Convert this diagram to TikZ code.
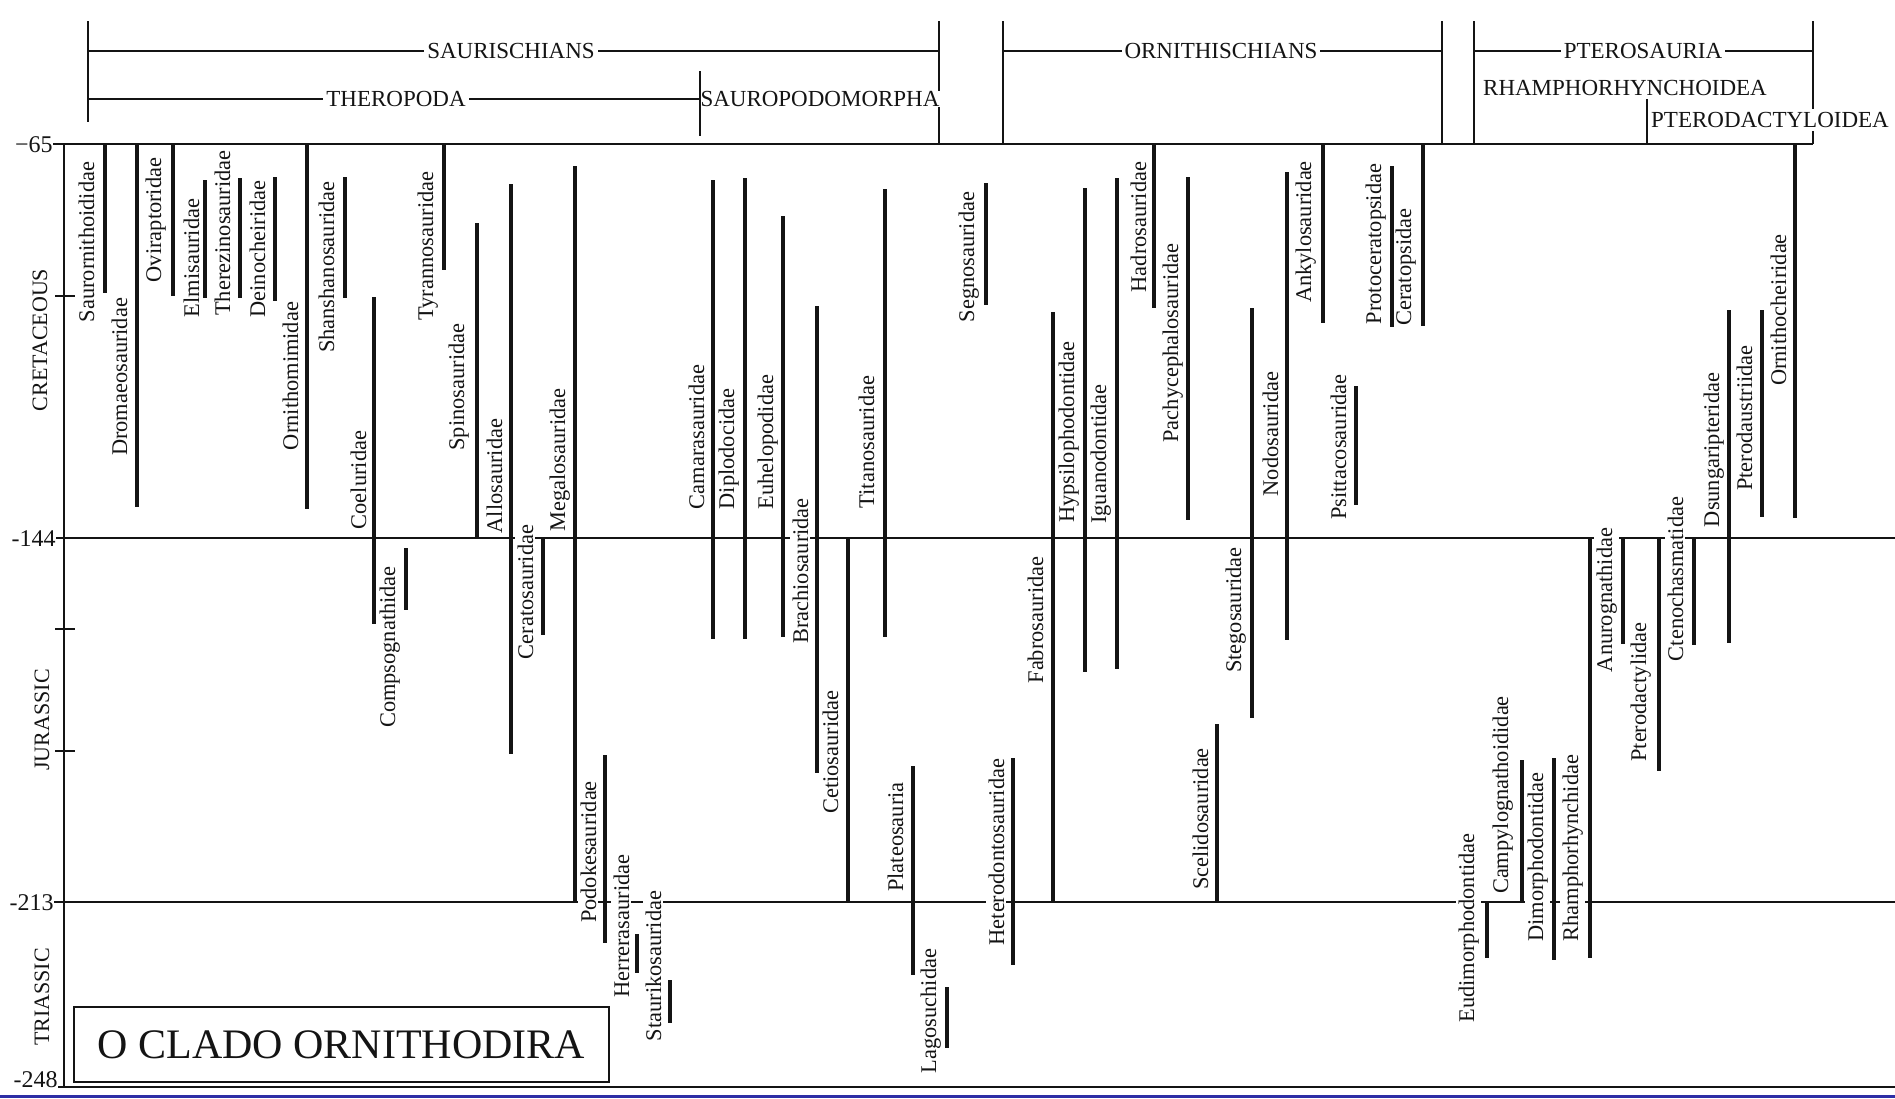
\documentclass[tikz,border=0pt]{standalone}
\usepackage{fontspec}
\setmainfont{Liberation Serif}
\usepackage{xcolor}
\definecolor{ink}{RGB}{20,20,20}
\definecolor{slideblue}{RGB}{45,45,165}
\usepackage{tikz}

\begin{document}
\begin{tikzpicture}[
        x=0.5pt, y=-0.5pt,
        rule/.style={line width=0.7pt, ink},
        bar/.style={line width=1.8pt, ink},
        fam/.style={rotate=90, anchor=base, fill=white, inner sep=1pt, text=ink, font=\fontsize{11.2}{13}\selectfont},
        clade/.style={fill=white, inner sep=1.5pt, text=ink, font=\fontsize{11.5}{13}\selectfont},
        period/.style={rotate=90, text=ink, font=\fontsize{11}{13}\selectfont},
        age/.style={anchor=east, inner sep=0pt, text=ink, font=\fontsize{12}{14}\selectfont},
        titlebox/.style={draw=ink, line width=1.3pt, minimum width=267.5pt, minimum height=37.5pt, inner sep=0pt, text=ink, font=\fontsize{21}{24}\selectfont}
    ]
        \useasboundingbox (0,0) rectangle (1895,1098);

        \draw[rule] (53,144) -- (1813,144);
        \draw[rule] (56,538) -- (1895,538);
        \draw[rule] (54,902) -- (1895,902);
        \draw[rule] (58,1087) -- (1895,1087);
        \draw[rule] (64,144) -- (64,1087);
        \draw[rule] (55,296) -- (75,296);
        \draw[rule] (55,629) -- (75,629);
        \draw[rule] (55,751) -- (75,751);
        \draw[slideblue, line width=1.5pt] (0,1096.5) -- (1895,1096.5);

        \node[age] (a65) at (53,145) {−65};
        \node[age] (a144) at (56,539) {-144};
        \node[age] (a213) at (54,903) {-213};
        \node[age] (a248) at (58,1080) {-248};

        \node[period] (cretaceous) at (40,340) {CRETACEOUS};
        \node[period] (jurassic) at (42,720) {JURASSIC};
        \node[period] (triassic) at (42,997) {TRIASSIC};

        \draw[rule] (88,21) -- (88,122);
        \draw[rule] (939,21) -- (939,144);
        \draw[rule] (88,51) -- (939,51);
        \draw[rule] (88,99) -- (700,99);
        \draw[rule] (700,71) -- (700,136);
        \draw[rule] (1003,21) -- (1003,144);
        \draw[rule] (1442,21) -- (1442,144);
        \draw[rule] (1003,51) -- (1442,51);
        \draw[rule] (1474,21) -- (1474,144);
        \draw[rule] (1813,21) -- (1813,144);
        \draw[rule] (1474,51) -- (1813,51);
        \draw[rule] (1647,97) -- (1647,144);

        \node[clade] (saurischians) at (511,51) {SAURISCHIANS};
        \node[clade] (theropoda) at (396,99) {THEROPODA};
        \node[clade, inner sep=0pt] (sauropodomorpha) at (820,99) {SAUROPODOMORPHA};
        \node[clade] (ornithischians) at (1221,51) {ORNITHISCHIANS};
        \node[clade] (pterosauria) at (1643,51) {PTEROSAURIA};
        \node[clade] (rhamphorhynchoidea) at (1625,88) {RHAMPHORHYNCHOIDEA};
        \node[clade] (pterodactyloidea) at (1770,120) {PTERODACTYLOIDEA};

        \node[titlebox] (title) at (341.5,1044.5) {O CLADO ORNITHODIRA};

        \node[fam] (saurornithoididae) at (94,242) {Saurornithoididae};
        \node[fam] (dromaeosauridae) at (127,377) {Dromaeosauridae};
        \node[fam] (oviraptoridae) at (161,220) {Oviraptoridae};
        \node[fam] (elmisauridae) at (199,258) {Elmisauridae};
        \node[fam] (therezinosauridae) at (230,233) {Therezinosauridae};
        \node[fam] (deinocheiridae) at (265,249) {Deinocheiridae};
        \node[fam] (ornithomimidae) at (298,376) {Ornithomimidae};
        \node[fam] (shanshanosauridae) at (334,267) {Shanshanosauridae};
        \node[fam] (coeluridae) at (366,480) {Coeluridae};
        \node[fam] (compsognathidae) at (395,647) {Compsognathidae};
        \node[fam] (tyrannosauridae) at (433,246) {Tyrannosauridae};
        \node[fam] (spinosauridae) at (464,387) {Spinosauridae};
        \node[fam] (allosauridae) at (502,476) {Allosauridae};
        \node[fam] (ceratosauridae) at (533,592) {Ceratosauridae};
        \node[fam] (megalosauridae) at (565,460) {Megalosauridae};
        \node[fam] (podokesauridae) at (596,852) {Podokesauridae};
        \node[fam] (herrerasauridae) at (629,926) {Herrerasauridae};
        \node[fam] (staurikosauridae) at (661,966) {Staurikosauridae};
        \node[fam] (camarasauridae) at (704,437) {Camarasauridae};
        \node[fam] (diplodocidae) at (734,449) {Diplodocidae};
        \node[fam] (euhelopodidae) at (773,442) {Euhelopodidae};
        \node[fam] (brachiosauridae) at (808,571) {Brachiosauridae};
        \node[fam] (cetiosauridae) at (838,752) {Cetiosauridae};
        \node[fam] (titanosauridae) at (874,442) {Titanosauridae};
        \node[fam] (plateosauria) at (903,837) {Plateosauria};
        \node[fam] (lagosuchidae) at (936,1011) {Lagosuchidae};
        \node[fam] (segnosauridae) at (974,257) {Segnosauridae};
        \node[fam] (heterodontosauridae) at (1004,852) {Heterodontosauridae};
        \node[fam] (fabrosauridae) at (1043,620) {Fabrosauridae};
        \node[fam] (hypsilophodontidae) at (1074,432) {Hypsilophodontidae};
        \node[fam] (iguanodontidae) at (1106,454) {Iguanodontidae};
        \node[fam] (hadrosauridae) at (1146,227) {Hadrosauridae};
        \node[fam] (pachycephalosauridae) at (1178,343) {Pachycephalosauridae};
        \node[fam] (scelidosauridae) at (1208,819) {Scelidosauridae};
        \node[fam] (stegosauridae) at (1241,610) {Stegosauridae};
        \node[fam] (nodosauridae) at (1278,434) {Nodosauridae};
        \node[fam] (ankylosauridae) at (1311,232) {Ankylosauridae};
        \node[fam] (psittacosauridae) at (1346,447) {Psittacosauridae};
        \node[fam] (protoceratopsidae) at (1381,244) {Protoceratopsidae};
        \node[fam] (ceratopsidae) at (1411,267) {Ceratopsidae};
        \node[fam] (eudimorphodontidae) at (1474,928) {Eudimorphodontidae};
        \node[fam] (campylognathoididae) at (1508,795) {Campylognathoididae};
        \node[fam] (dimorphodontidae) at (1543,857) {Dimorphodontidae};
        \node[fam] (rhamphorhynchidae) at (1578,848) {Rhamphorhynchidae};
        \node[fam] (anurognathidae) at (1612,600) {Anurognathidae};
        \node[fam] (pterodactylidae) at (1646,692) {Pterodactylidae};
        \node[fam] (ctenochasmatidae) at (1683,579) {Ctenochasmatidae};
        \node[fam] (dsungaripteridae) at (1719,450) {Dsungaripteridae};
        \node[fam] (pterodaustriidae) at (1752,418) {Pterodaustriidae};
        \node[fam] (ornithocheiridae) at (1786,310) {Ornithocheiridae};

        \draw[bar] (105,144) -- (105,293);
        \draw[bar] (137,144) -- (137,507);
        \draw[bar] (173,144) -- (173,296);
        \draw[bar] (205,180) -- (205,298);
        \draw[bar] (240,178) -- (240,298);
        \draw[bar] (275,177) -- (275,301);
        \draw[bar] (307,144) -- (307,509);
        \draw[bar] (345,177) -- (345,298);
        \draw[bar] (374,297) -- (374,624);
        \draw[bar] (406,548) -- (406,610);
        \draw[bar] (444,144) -- (444,270);
        \draw[bar] (477,223) -- (477,538);
        \draw[bar] (511,184) -- (511,754);
        \draw[bar] (543,538) -- (543,635);
        \draw[bar] (575,166) -- (575,902);
        \draw[bar] (605,755) -- (605,943);
        \draw[bar] (637,934) -- (637,973);
        \draw[bar] (670,980) -- (670,1023);
        \draw[bar] (713,180) -- (713,639);
        \draw[bar] (745,178) -- (745,639);
        \draw[bar] (783,216) -- (783,637);
        \draw[bar] (817,306) -- (817,773);
        \draw[bar] (848,538) -- (848,902);
        \draw[bar] (885,189) -- (885,637);
        \draw[bar] (913,766) -- (913,975);
        \draw[bar] (947,987) -- (947,1048);
        \draw[bar] (986,183) -- (986,305);
        \draw[bar] (1013,758) -- (1013,965);
        \draw[bar] (1053,312) -- (1053,902);
        \draw[bar] (1085,188) -- (1085,672);
        \draw[bar] (1117,178) -- (1117,669);
        \draw[bar] (1154,144) -- (1154,308);
        \draw[bar] (1188,177) -- (1188,520);
        \draw[bar] (1217,724) -- (1217,902);
        \draw[bar] (1252,308) -- (1252,718);
        \draw[bar] (1287,172) -- (1287,640);
        \draw[bar] (1323,144) -- (1323,323);
        \draw[bar] (1356,386) -- (1356,505);
        \draw[bar] (1392,166) -- (1392,327);
        \draw[bar] (1423,144) -- (1423,326);
        \draw[bar] (1487,902) -- (1487,958);
        \draw[bar] (1522,760) -- (1522,901);
        \draw[bar] (1554,758) -- (1554,960);
        \draw[bar] (1590,538) -- (1590,958);
        \draw[bar] (1623,538) -- (1623,644);
        \draw[bar] (1659,538) -- (1659,771);
        \draw[bar] (1694,538) -- (1694,645);
        \draw[bar] (1729,310) -- (1729,643);
        \draw[bar] (1762,310) -- (1762,517);
        \draw[bar] (1795,144) -- (1795,518);
    \end{tikzpicture}
\end{document}
